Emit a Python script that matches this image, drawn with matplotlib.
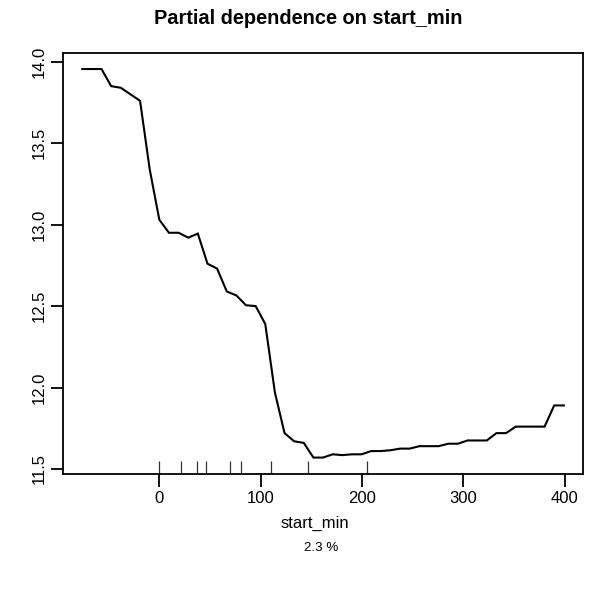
import matplotlib
matplotlib.use("Agg")
import matplotlib.pyplot as plt

plt.rcParams['font.family'] = ['Liberation Sans', 'DejaVu Sans']

# Partial dependence grid (start_min) and fitted values
x_grid = [-76.0, -66.5, -57.0, -47.5, -38.0, -28.5, -19.0, -9.5, 0.0, 9.5,
          19.0, 28.5, 38.0, 47.5, 57.0, 66.5, 76.0, 85.5, 95.0, 104.5,
          114.0, 123.5, 133.0, 142.5, 152.0, 161.5, 171.0, 180.5, 190.0, 199.5,
          209.0, 218.5, 228.0, 237.5, 247.0, 256.5, 266.0, 275.5, 285.0, 294.5,
          304.0, 313.5, 323.0, 332.5, 342.0, 351.5, 361.0, 370.5, 380.0, 389.5,
          399.0]
pd_values = [13.955, 13.955, 13.955, 13.85, 13.84, 13.80, 13.76, 13.34, 13.03, 12.95,
             12.95, 12.92, 12.945, 12.76, 12.73, 12.59, 12.565, 12.505, 12.50, 12.39,
             11.97, 11.72, 11.67, 11.66, 11.57, 11.57, 11.59, 11.585, 11.59, 11.59,
             11.61, 11.61, 11.615, 11.625, 11.625, 11.64, 11.64, 11.64, 11.655, 11.655,
             11.675, 11.675, 11.675, 11.72, 11.72, 11.76, 11.76, 11.76, 11.76, 11.89,
             11.89]
# deciles of start_min (rug)
rug_deciles = [0, 21.5, 37, 46, 70, 81, 110, 147, 205]

x_ticks = [0, 100, 200, 300, 400]
y_ticks = [11.5, 12.0, 12.5, 13.0, 13.5, 14.0]
y_ticklabels = ["11.5", "12.0", "12.5", "13.0", "13.5", "14.0"]

title = "Partial dependence on start_min"
xlabel = "start_min"
subnote = "2.3 %"

W, H = 596, 593
fig = plt.figure(figsize=(W / 100, H / 100), dpi=100)
fig.patch.set_facecolor('white')
L, R, T, B = 62.7, 582.7, 53.3, 473.7
ax = fig.add_axes([L / W, 1 - B / H, (R - L) / W, (B - T) / H])

ax.plot(x_grid, pd_values, color='black', lw=1.5, solid_joinstyle='miter')
ax.vlines(rug_deciles, 0, 0.030, transform=ax.get_xaxis_transform(),
          color='#333333', lw=0.9)

ax.set_xlim(-95.3, 417.6)
ax.set_ylim(11.471, 14.0516)
ax.set_xticks(x_ticks)
ax.set_xticklabels([str(v) for v in x_ticks])
ax.set_yticks(y_ticks)
ax.set_yticklabels(y_ticklabels, rotation=90, va='center')

for s in ax.spines.values():
    s.set_linewidth(1.3)
    s.set_color('black')
ax.tick_params(axis='both', direction='out', length=9, width=1.3, labelsize=12,
               colors='black')
ax.tick_params(axis='x', pad=3.5)
ax.tick_params(axis='y', pad=2.5)

fig.text(308.5 / W, 1 - 19 / H, title, ha='center', va='center',
         fontsize=14.4, fontweight='bold')
fig.text(315 / W, 1 - 523 / H, xlabel, ha='center', va='center', fontsize=12)
fig.text(321 / W, 1 - 548 / H, subnote, ha='center', va='center', fontsize=9.6)

fig.savefig("out.png", dpi=100, facecolor='white')
